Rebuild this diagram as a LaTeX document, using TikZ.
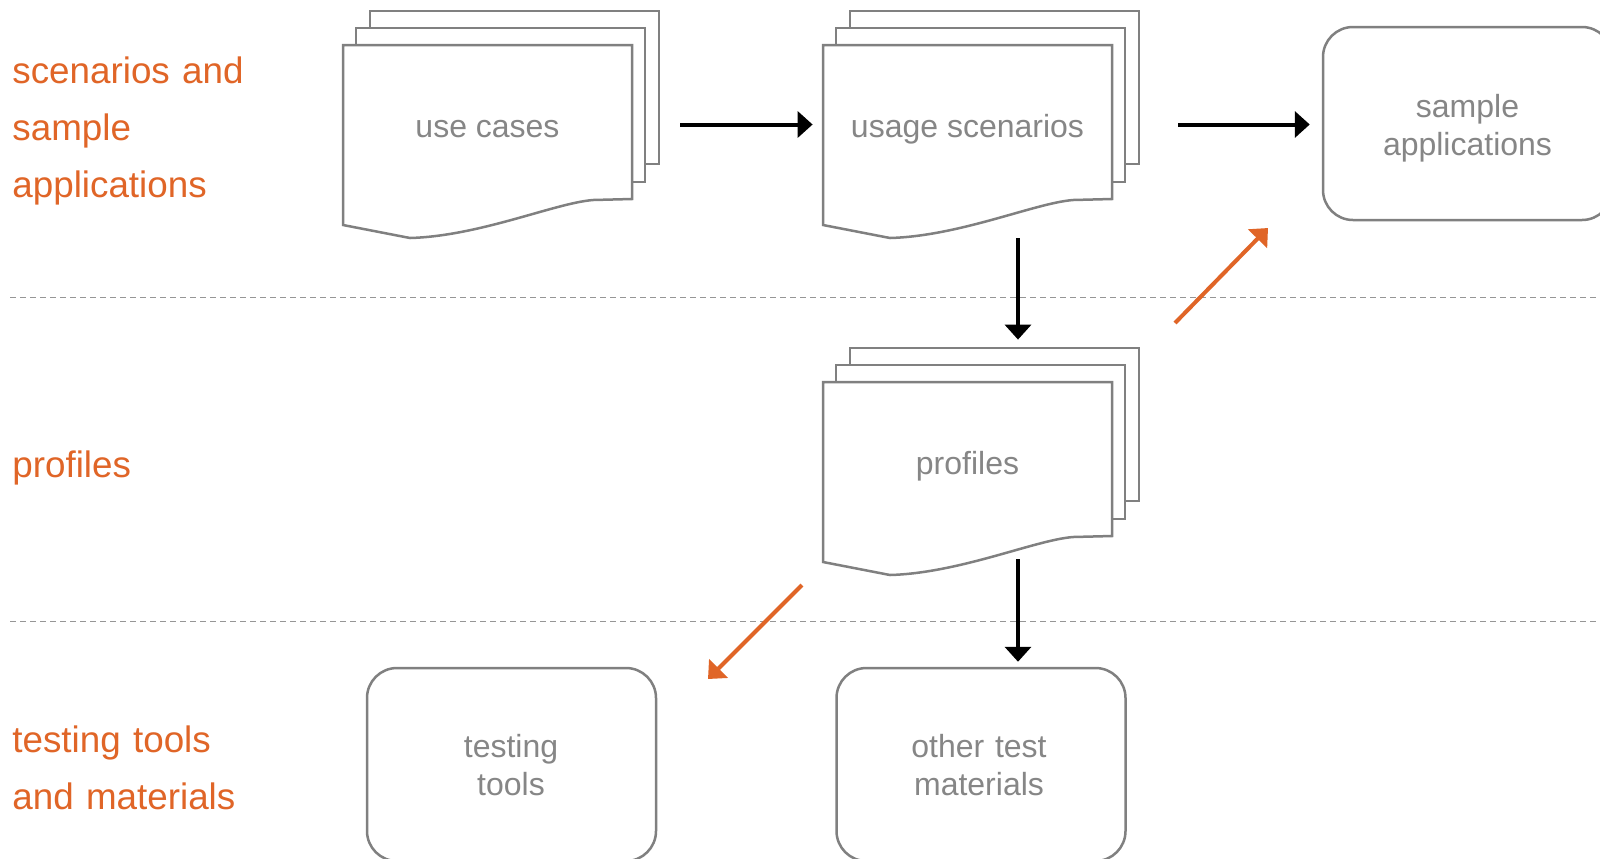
\documentclass[tikz,border=0pt]{standalone}
\usepackage{fontspec}
\setmainfont{Liberation Sans}
\usetikzlibrary{arrows.meta}
\definecolor{boxgray}{RGB}{128,128,128}
\definecolor{txtgray}{RGB}{134,134,134}
\definecolor{accent}{RGB}{224,101,39}
\definecolor{dashgray}{RGB}{150,150,150}
\tikzset{
  page/.style={draw=boxgray, line width=1.25pt, fill=white, line join=miter},
  docstack/.pic={
    \path[page] (27,-34) rectangle (316,119);
    \path[page] (13,-17) rectangle (302,137);
    \path[page] (0,0) -- (289,0) -- (289,154) -- (250,155)
      .. controls (212,158) and (137,191) .. (67,193) -- (0,180) -- cycle;
  },
  stackarea/.style={minimum width=158pt, minimum height=113.5pt, inner sep=0pt, draw=none},
  doctext/.style={font=\fontsize{16pt}{19pt}\selectfont, text=txtgray, inner sep=0pt, anchor=base},
  roundbox/.style={draw=boxgray, line width=1.25pt, rounded corners=15pt, fill=white,
    minimum width=144.5pt, minimum height=96.5pt, inner sep=0pt},
  boxtext/.style={font=\fontsize{16pt}{19pt}\selectfont, text=txtgray, inner sep=0pt,
    anchor=base, text width=140pt, align=center},
  sidelabel/.style={font=\fontsize{18.4pt}{28.5pt}\selectfont, text=accent, inner sep=0pt,
    anchor=base west, text width=150pt, align=left},
  blackarrow/.style={draw=black, line width=2pt, -{Triangle[width=13pt,length=7.5pt]}},
  orangearrow/.style={draw=accent, line width=2pt, -{Triangle[width=13pt,length=7.5pt]}},
  divider/.style={draw=dashgray, line width=0.5pt, dash pattern=on 3pt off 2pt},
}
\begin{document}
\begin{tikzpicture}[x=0.5pt,y=-0.5pt]
\useasboundingbox (0,0) rectangle (1600,858);
\clip (0,0) rectangle (1600,858);
\fill[white] (0,0) rectangle (1600,858);

% dividers
\coordinate (d1a) at (10,297); \coordinate (d1b) at (1600,297);
\coordinate (d2a) at (10,621); \coordinate (d2b) at (1600,621);
\draw[divider] (d1a) -- (d1b);
\draw[divider] (d2a) -- (d2b);

% side labels
\node[sidelabel] (lab1) at (12,83) {scenarios and\\sample\\applications};
\node[sidelabel] (lab2) at (12,477) {profiles};
\node[sidelabel] (lab3) at (12,752) {testing tools\\and materials};

% document stacks
\node[stackarea] (uc) at (501,124.5) {};
\node[stackarea] (us) at (981,124.5) {};
\node[stackarea] (pr) at (981,461.5) {};
\pic at (343,45) {docstack};
\pic at (823,45) {docstack};
\pic at (823,382) {docstack};
\node[doctext] (uctext) at (487.5,137) {use cases};
\node[doctext] (ustext) at (967.5,137) {usage scenarios};
\node[doctext] (prtext) at (967.5,474) {profiles};

% rounded boxes
\node[roundbox] (sa) at (1467.5,123.5) {};
\node[roundbox] (tt) at (511.5,764.5) {};
\node[roundbox] (otm) at (981,764.5) {};
\node[boxtext] (satext) at (1467.5,117) {sample\\applications};
\node[boxtext] (tttext) at (511,757) {testing\\tools};
\node[boxtext] (otmtext) at (979,757) {other test\\materials};

% black connectors
\draw[blackarrow, shorten <=10.5pt, shorten >=5pt] (uc.east) -- (us.west);
\draw[blackarrow, shorten <=19.5pt, shorten >=6pt] (us.east) -- (us.east -| sa.west);
\draw[blackarrow, shorten >=4pt] ([xshift=18.5pt]us.south) -- ([xshift=18.5pt]pr.north);
\draw[blackarrow, shorten >=2.5pt] ([shift={(18.5pt,8pt)}]pr.south) -- ([xshift=18.5pt]otm.north);

% orange connectors
\coordinate (o1s) at (1175,323); \coordinate (o1e) at (1268,228);
\coordinate (o2s) at (802,585); \coordinate (o2e) at (708,679);
\draw[orangearrow] (o1s) -- (o1e);
\draw[orangearrow] (o2s) -- (o2e);
\end{tikzpicture}
\end{document}
